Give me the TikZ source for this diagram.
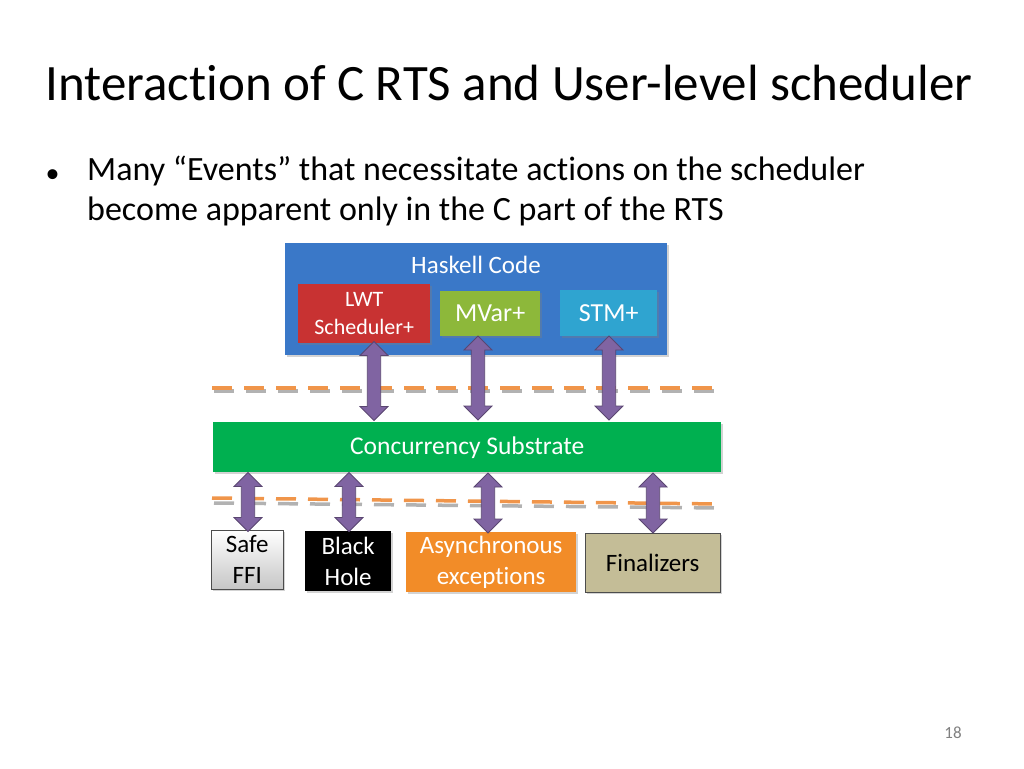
\documentclass[tikz,border=0pt]{standalone}
\usepackage{fontspec}
\setmainfont{Carlito}[Ligatures=NoCommon]
\usetikzlibrary{shapes.arrows,shadows}
\definecolor{hblue}{HTML}{3A78C8}
\definecolor{lred}{HTML}{C83232}
\definecolor{mgreen}{HTML}{8DB83A}
\definecolor{scyan}{HTML}{2FA4D0}
\definecolor{cgreen}{HTML}{00B050}
\definecolor{aorange}{HTML}{F28C28}
\definecolor{fkhaki}{HTML}{C4BD97}
\definecolor{apurple}{HTML}{8064A2}
\definecolor{dorange}{HTML}{F0954A}
\tikzset{
 box/.style={anchor=north west,inner sep=0pt,align=center,font=\fontsize{25}{31}\selectfont,drop shadow={opacity=0.35,shadow xshift=1.5pt,shadow yshift=-1.5pt}},
 darr/.style={double arrow,rotate=90,fill=apurple,draw=apurple!70!black,line width=0.8pt,minimum width=28pt,double arrow head extend=7pt,inner sep=6pt,anchor=center},
 dline/.style={line width=3.5pt,dash pattern=on 20pt off 12pt},
}
\begin{document}
\begin{tikzpicture}[x=1pt,y=-1pt]
\useasboundingbox (0,0) rectangle (1024,768);
\node[anchor=west,font=\fontsize{51}{56}\selectfont] (title) at (42,83) {Interaction of C RTS and User-level scheduler};
\node[anchor=west,font=\fontsize{28}{32}\selectfont] (bul) at (42,176) {•};
\node[anchor=north west,align=left,font=\fontsize{34}{40}\selectfont,inner sep=0pt] (btxt) at (87,156) {Many “Events” that necessitate actions on the scheduler\\become apparent only in the C part of the RTS};
% dashed lines
\draw[dline,gray!60] (214,391) -- (722,391);
\draw[dline,dorange] (212,388) -- (720,388);
\draw[dline,gray!60] (214,503) -- (722,508);
\draw[dline,dorange] (212,498) -- (720,504);
% boxes
\node[box,fill=hblue,minimum width=382pt,minimum height=112pt] (hs) at (285,243) {};
\node[text=white,font=\fontsize{25}{28}\selectfont] (hst) at (476,265) {Haskell Code};
\node[box,fill=lred,text=white,minimum width=132pt,minimum height=59pt,font=\fontsize{22}{28}\selectfont] (lwt) at (298,284) {LWT\\Scheduler+};
\node[box,fill=mgreen,text=white,minimum width=100pt,minimum height=45pt,font=\fontsize{26}{28}\selectfont] (mvar) at (440,291) {MVar+};
\node[box,fill=scyan,text=white,minimum width=97pt,minimum height=46pt,font=\fontsize{26}{28}\selectfont] (stm) at (560,290) {STM+};
\node[box,fill=cgreen,text=white,minimum width=508pt,minimum height=50pt,font=\fontsize{25.5}{28}\selectfont] (cs) at (213,422) {Concurrency Substrate};
\node[box,top color=white,bottom color=gray!45,draw=gray!60!black,minimum width=72pt,minimum height=59pt] (ffi) at (211,530) {Safe\\FFI};
\node[box,fill=black,text=white,minimum width=86pt,minimum height=60pt] (bh) at (305,531) {Black\\Hole};
\node[box,fill=aorange,text=white,minimum width=170pt,minimum height=60pt] (as) at (406,532) {Asynchronous\\exceptions};
\node[box,fill=fkhaki,draw=gray!60!black,minimum width=135pt,minimum height=59pt] (fin) at (585,533) {Finalizers};
% arrows
\node[darr,minimum height=79pt] (a1) at (374,381) {};
\node[darr,minimum height=84pt] (a2) at (478,378) {};
\node[darr,minimum height=84pt] (a3) at (609,378) {};
\node[darr,minimum height=59pt] (b1) at (248,502) {};
\node[darr,minimum height=59pt] (b2) at (349,502) {};
\node[darr,minimum height=60pt] (b3) at (488,503) {};
\node[darr,minimum height=60pt] (b4) at (653,503) {};
\node[text=gray,font=\fontsize{17}{18}\selectfont] (pg) at (953,733) {18};
\end{tikzpicture}
\end{document}
